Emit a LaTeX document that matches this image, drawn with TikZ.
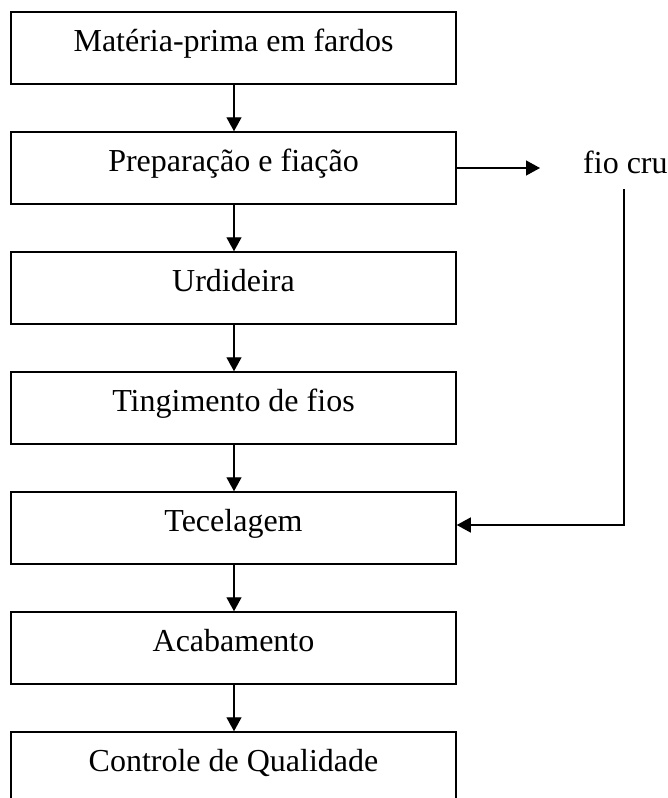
\documentclass[tikz,border=0pt]{standalone}
\usepackage{fontspec}
\setmainfont{Liberation Serif}
\usetikzlibrary{arrows.meta}

\tikzset{
  stage/.style={draw, line width=1.5pt, minimum width=445pt, minimum height=72pt,
    inner sep=0pt, text height=22pt, text depth=15pt,
    font=\fontsize{32}{38}\selectfont},
  flow/.style={line width=1.3pt, -{Triangle[length=14pt,width=15pt]}},
  label/.style={inner sep=0pt, anchor=base west, font=\fontsize{32}{38}\selectfont}
}

\begin{document}
\begin{tikzpicture}[x=1pt,y=-1pt]
  \clip (0,0) rectangle (667,798);
  \fill[white] (0,0) rectangle (667,798);

  % process stages, top to bottom
  \node[stage] (s1) at (233.5,48)  {Matéria-prima em fardos};
  \node[stage] (s2) at (233.5,168) {Preparação e fiação};
  \node[stage] (s3) at (233.5,288) {Urdideira};
  \node[stage] (s4) at (233.5,408) {Tingimento de fios};
  \node[stage] (s5) at (233.5,528) {Tecelagem};
  \node[stage] (s6) at (233.5,648) {Acabamento};
  \node[stage] (s7) at (233.5,768) {Controle de Qualidade};

  % main flow
  \foreach \a/\b in {s1/s2, s2/s3, s3/s4, s4/s5, s5/s6, s6/s7}
    \draw[flow] (\a.south -| 234,0) -- (\b.north -| 234,0);

  % raw yarn branch
  \node[label] (fio) at (583,173) {fio cru};
  \coordinate (fiotip) at (540,168);
  \coordinate (vtop) at (624,189);
  \coordinate (vbot) at (624,525);
  \draw[flow] (s2.east) -- (fiotip);
  \draw[flow] (vtop) -- (vbot) -- (vbot -| s5.east);
\end{tikzpicture}
\end{document}
